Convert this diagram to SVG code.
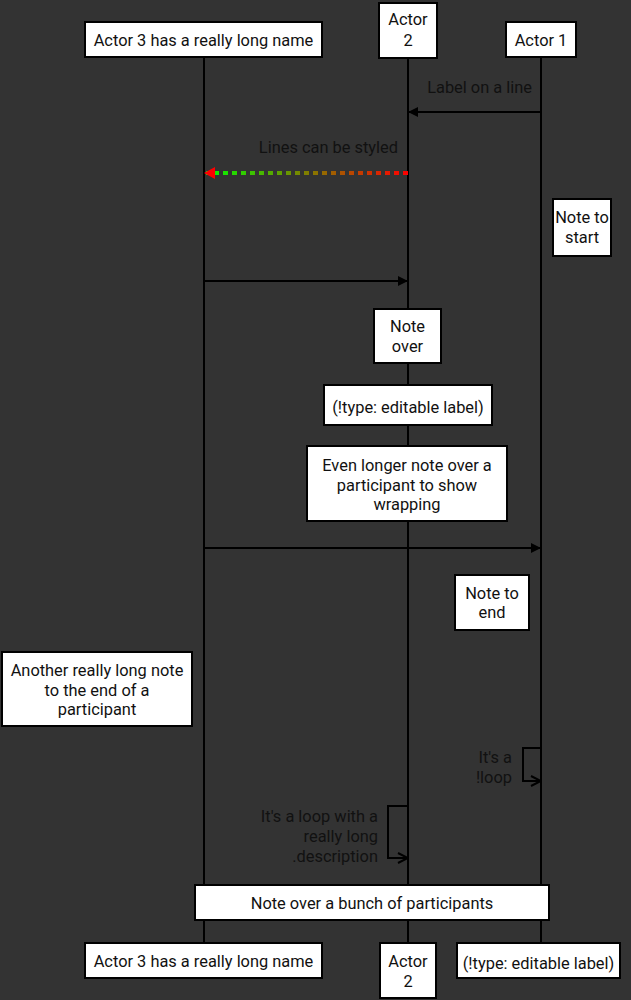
<svg xmlns="http://www.w3.org/2000/svg" width="631" height="1000" viewBox="0 0 631 1000">
<defs>
<style>
text{font-family:Roboto,"Liberation Sans",sans-serif;font-size:16.4px;fill:#111;text-anchor:middle}
.lbl{text-anchor:end;fill:#111}
.box{fill:#fff;stroke:#000;stroke-width:2}
.life{stroke:#000;stroke-width:2;fill:none}
.msg{stroke:#000;stroke-width:2;fill:none}
</style>
<marker id="ah" viewBox="0 0 10 10" refX="10" refY="5" markerWidth="10" markerHeight="10" markerUnits="userSpaceOnUse" orient="auto">
<path d="M0,0 L10,5 L0,10 z" fill="#000"/>
</marker>
<marker id="oh" viewBox="0 0 12 12" refX="11" refY="6" markerWidth="12" markerHeight="12" markerUnits="userSpaceOnUse" orient="auto">
<path d="M1,1 L11,6 L1,11" fill="none" stroke="#000" stroke-width="2"/>
</marker>
<linearGradient id="grad" gradientUnits="userSpaceOnUse" x1="204" y1="0" x2="408" y2="0">
<stop offset="0" stop-color="#00ff00"/>
<stop offset="1" stop-color="#ff0000"/>
</linearGradient>
</defs>
<rect width="631" height="1000" fill="#333"/>

<g id="lifelines">
<line class="life" x1="204" y1="57" x2="204" y2="943"/>
<line class="life" x1="408" y1="58" x2="408" y2="943"/>
<line class="life" x1="541" y1="57" x2="541" y2="943"/>
</g>

<g id="connectors">
<line class="msg" x1="541" y1="112" x2="408" y2="112" marker-end="url(#ah)"/>
<line x1="408" y1="173" x2="206" y2="173" stroke="url(#grad)" stroke-width="4" stroke-dasharray="5 4"/>
<path d="M215,167 L204,173 L215,179 z" fill="#ff0000"/>
<line class="msg" x1="204" y1="281" x2="408" y2="281" marker-end="url(#ah)"/>
<line class="msg" x1="204" y1="548" x2="541" y2="548" marker-end="url(#ah)"/>
<path class="msg" d="M541,748 H523 V781 H541" marker-end="url(#oh)"/>
<path class="msg" d="M408,806 H388 V858 H408" marker-end="url(#oh)"/>
</g>

<g id="labels">
<text class="lbl" x="532" y="93">Label on a line</text>
<text class="lbl" x="398" y="153">Lines can be styled</text>
<text class="lbl" x="512" y="763">It's a</text>
<text class="lbl" x="512" y="783">!loop</text>
<text class="lbl" x="378" y="822">It's a loop with a</text>
<text class="lbl" x="378" y="842">really long</text>
<text class="lbl" x="378" y="862">.description</text>
</g>

<g id="actor3-top">
<rect class="box" x="85" y="22" width="237" height="35"/>
<text x="203.5" y="45.5">Actor 3 has a really long name</text>
</g>
<g id="actor2-top">
<rect class="box" x="379" y="3" width="58" height="55"/>
<text x="408" y="25">Actor</text>
<text x="408" y="46">2</text>
</g>
<g id="actor1-top">
<rect class="box" x="506" y="22" width="70" height="35"/>
<text x="541" y="45.5">Actor 1</text>
</g>

<g id="note-start">
<rect class="box" x="553" y="199" width="58" height="57"/>
<text x="582" y="223">Note to</text>
<text x="582" y="243">start</text>
</g>
<g id="note-over">
<rect class="box" x="374" y="309" width="67" height="54"/>
<text x="407.5" y="332">Note</text>
<text x="407.5" y="352">over</text>
</g>
<g id="note-editable">
<rect class="box" x="324" y="385" width="168" height="40"/>
<text x="408" y="413">(!type: editable label)</text>
</g>
<g id="note-long">
<rect class="box" x="307" y="446" width="200" height="75"/>
<text x="407" y="471">Even longer note over a</text>
<text x="407" y="491">participant to show</text>
<text x="407" y="510">wrapping</text>
</g>
<g id="note-end">
<rect class="box" x="455" y="575" width="74" height="55"/>
<text x="492" y="599">Note to</text>
<text x="492" y="618">end</text>
</g>
<g id="note-another">
<rect class="box" x="2" y="652" width="190" height="74"/>
<text x="97" y="676">Another really long note</text>
<text x="97" y="696">to the end of a</text>
<text x="97" y="715">participant</text>
</g>
<g id="note-bunch">
<rect class="box" x="195" y="885" width="354" height="35"/>
<text x="372" y="909">Note over a bunch of participants</text>
</g>

<g id="actor3-bottom">
<rect class="box" x="85" y="943" width="237" height="35"/>
<text x="203.5" y="966.5">Actor 3 has a really long name</text>
</g>
<g id="actor2-bottom">
<rect class="box" x="380" y="943" width="56" height="55"/>
<text x="408" y="967">Actor</text>
<text x="408" y="987">2</text>
</g>
<g id="actor1-bottom">
<rect class="box" x="457" y="943" width="163" height="35"/>
<text x="538.5" y="969">(!type: editable label)</text>
</g>
</svg>
